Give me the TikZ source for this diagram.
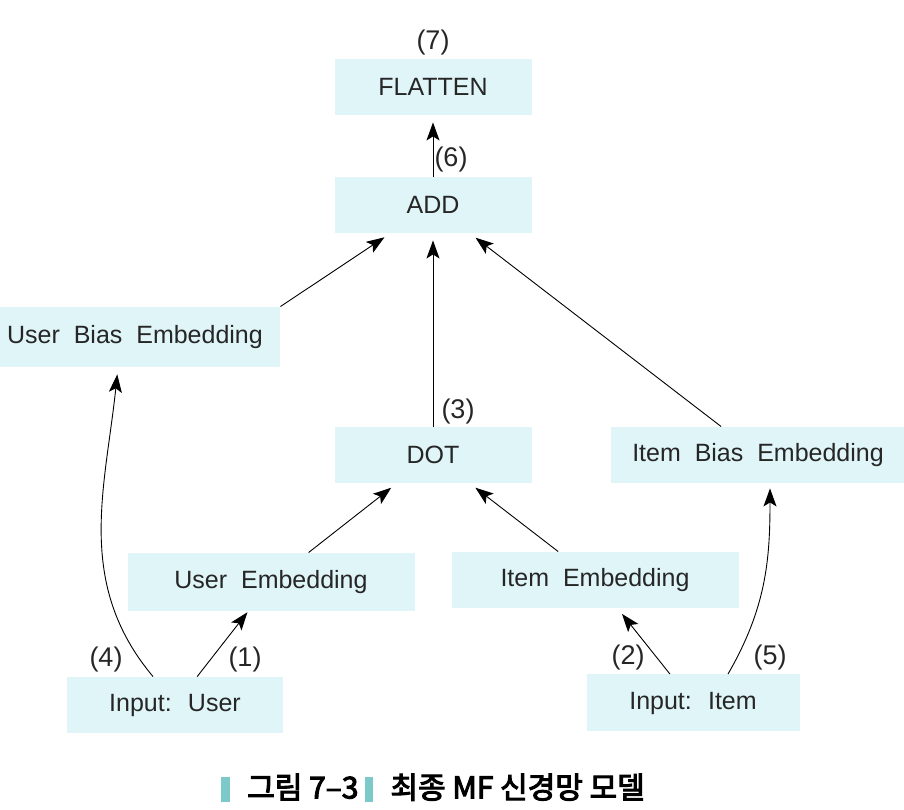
\documentclass[tikz,border=0pt]{standalone}
\usepackage{fontspec}
\setmainfont[WordSpace=2.0]{Liberation Sans}
\newfontfamily\kofont[RawFeature={embolden=3.5}]{Noto Sans CJK KR}
\usetikzlibrary{positioning,arrows.meta}
\definecolor{layerfill}{RGB}{223,245,248}
\definecolor{capbar}{RGB}{125,200,200}

\begin{document}
\begin{tikzpicture}[shorten >=7pt,node distance=2cm,on grid,auto,
   >={Stealth[length=18pt,width=13pt,inset=4pt]}, line width=0.9pt,
   layer/.style={fill=layerfill, text=black!85, inner sep=0pt,
      minimum width=197pt, minimum height=56pt,
      font=\fontsize{25}{29}\selectfont},
   num/.style={inner sep=0pt, text=black!85, font=\fontsize{27}{31}\selectfont}]
   \useasboundingbox (0,0) rectangle (904pt,810pt);
   \node[layer] (add) at (433pt,605pt) {ADD};
   \node[layer] (flatten) [above=118pt of add] {FLATTEN};
   \node[layer] (dot) [below=250pt of add] {DOT};
   \node[layer, minimum width=290pt, minimum height=60pt] (ubias) [below left=132pt and 298pt of add] {User Bias Embedding};
   \node[layer, minimum width=295pt] (ibias) [right=325pt of dot] {Item Bias Embedding};
   \node[layer, minimum width=287pt, minimum height=58pt] (uemb) [below left=127pt and 162pt of dot] {User Embedding};
   \node[layer, minimum width=287pt] (iemb) [below right=125pt and 162pt of dot] {Item Embedding};
   \node[layer, minimum width=216pt] (uin) [below left=123pt and 96pt of uemb] {Input: User};
   \node[layer, minimum width=213pt, minimum height=57pt] (iin) [below right=123pt and 98pt of iemb] {Input: Item};
   % step numbers
   \node[num] (n7) [above=16pt of flatten.north, anchor=center] {(7)};
   \node[num] (n6) [above right=17pt and 18pt of add.north, anchor=center] {(6)};
   \node[num] (n3) [above right=15pt and 25pt of dot.north, anchor=center] {(3)};
   \node[num] (n4) [above left=17pt and 69pt of uin.north, anchor=center] {(4)};
   \node[num] (n1) [above right=17pt and 70pt of uin.north, anchor=center] {(1)};
   \node[num] (n2) [above left=17pt and 65pt of iin.north, anchor=center] {(2)};
   \node[num] (n5) [above right=17pt and 77pt of iin.north, anchor=center] {(5)};
   \path[->]
    (add) edge (flatten)
    (dot) edge (add)
    (ubias.north east) edge (add)
    (ibias) edge (add)
    (uemb) edge (dot)
    (iemb) edge (dot)
    (uin) edge [shorten >=1pt] (uemb)
    ([xshift=-22pt]uin.north) edge [out=130, in=-96] ([xshift=-17pt]ubias.south)
    (iin) edge (iemb)
    ([xshift=35pt]iin.north) edge [out=60, in=-90, shorten >=5pt] ([xshift=12pt]ibias.south);
   \node (caption) [below=333pt of dot] {\kofont\fontsize{30}{34}\selectfont
      {\color{capbar}\rule[-4pt]{9pt}{25pt}}\hspace{17pt}그림 7–3\hspace{6pt}{\color{capbar}\rule[-4pt]{8pt}{25pt}}\hspace{18pt}최종 MF 신경망 모델};
\end{tikzpicture}
\end{document}
